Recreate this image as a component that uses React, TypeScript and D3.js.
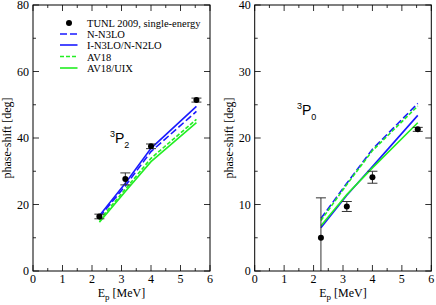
import React from "react";
import * as d3 from "d3";

// ---- Data ----
const energies = [2.25, 3.13, 4.0, 5.54];

// 3P2 panel
const p2Tunl = [16.4, 27.7, 37.5, 51.4];
const p2TunlErr = [0.7, 1.8, 0.7, 0.6];
const p2NN3LO = [16.2, 25.6, 35.9, 48.0];
const p2IN3LO = [16.6, 26.4, 36.9, 49.5];
const p2AV18 = [15.3, 24.6, 33.9, 45.6];
const p2AV18UIX = [14.7, 23.9, 32.9, 44.6];

// 3P0 panel
const p0Tunl = [5.0, 9.7, 14.1, 21.3];
const p0TunlErr = [6.0, 0.75, 0.9, 0.3];
const p0NN3LO = [7.9, 13.2, 18.3, 25.2];
const p0IN3LO = [6.5, 11.4, 15.7, 23.4];
const p0AV18 = [7.6, 13.0, 18.1, 24.8];
const p0AV18UIX = [6.8, 11.5, 15.5, 22.3];

const xTicks = [0, 1, 2, 3, 4, 5, 6];
const xMinor = [0.5, 1.5, 2.5, 3.5, 4.5, 5.5];
const leftYTicks = [0, 20, 40, 60, 80];
const leftYMinor = [10, 30, 50, 70];
const rightYTicks = [0, 10, 20, 30, 40];
const rightYMinor = [5, 15, 25, 35];

const legendLabels = [
  "TUNL 2009, single-energy",
  "N-N3LO",
  "I-N3LO/N-N2LO",
  "AV18",
  "AV18/UIX",
];

const BLUE = "#1a1aff";
const GREEN = "#22ee22";
const SERIF = "'Liberation Serif', 'DejaVu Serif', serif";
const SANS = "'Liberation Sans', Arial, sans-serif";

type Series = { vals: number[]; color: string; dash?: string };

function Panel(props: {
  x0: number;
  x1: number;
  yMax: number;
  yTicks: number[];
  yMinor: number[];
  tunl: number[];
  err: number[];
  series: Series[];
  label: string;
  sub: string;
  labelX: number;
  labelY: number;
  legend?: boolean;
}) {
  const { x0, x1, yMax, yTicks, yMinor, tunl, err, series } = props;
  const top = 5;
  const bottom = 271;
  const xs = d3.scaleLinear().domain([0, 6]).range([x0, x1]);
  const ys = d3.scaleLinear().domain([0, yMax]).range([bottom, top]);
  const line = d3
    .line<number>()
    .x((_, i) => xs(energies[i]))
    .y((d) => ys(d));
  const major = 6;
  const minor = 3;
  return (
    <g>
      <defs>
        <clipPath id={"clip" + x0}>
          <rect x={x0} y={top} width={x1 - x0} height={bottom - top} />
        </clipPath>
      </defs>
      {/* ticks */}
      {xTicks.map((t) => (
        <g key={"xt" + t}>
          <line x1={xs(t)} x2={xs(t)} y1={bottom} y2={bottom - major} stroke="#333" />
          <line x1={xs(t)} x2={xs(t)} y1={top} y2={top + major} stroke="#333" />
          <text x={xs(t)} y={bottom + 12} fontSize={12} fontFamily={SERIF} textAnchor="middle">
            {t}
          </text>
        </g>
      ))}
      {xMinor.map((t) => (
        <g key={"xm" + t}>
          <line x1={xs(t)} x2={xs(t)} y1={bottom} y2={bottom - minor} stroke="#333" />
          <line x1={xs(t)} x2={xs(t)} y1={top} y2={top + minor} stroke="#333" />
        </g>
      ))}
      {yTicks.map((t) => (
        <g key={"yt" + t}>
          <line x1={x0} x2={x0 + major} y1={ys(t)} y2={ys(t)} stroke="#333" />
          <line x1={x1} x2={x1 - major} y1={ys(t)} y2={ys(t)} stroke="#333" />
          <text x={x0 - 4} y={ys(t) + 4} fontSize={12} fontFamily={SERIF} textAnchor="end">
            {t}
          </text>
        </g>
      ))}
      {yMinor.map((t) => (
        <g key={"ym" + t}>
          <line x1={x0} x2={x0 + minor} y1={ys(t)} y2={ys(t)} stroke="#333" />
          <line x1={x1} x2={x1 - minor} y1={ys(t)} y2={ys(t)} stroke="#333" />
        </g>
      ))}
      {/* series */}
      <g clipPath={`url(#clip${x0})`}>
        {series.map((s, i) => (
          <path
            key={"s" + i}
            d={line(s.vals) || ""}
            fill="none"
            stroke={s.color}
            strokeWidth={1.6}
            strokeDasharray={s.dash}
          />
        ))}
        {tunl.map((v, i) => {
          const cx = xs(energies[i]);
          const lo = ys(v - err[i]);
          const hi = ys(v + err[i]);
          return (
            <g key={"p" + i}>
              <line x1={cx} x2={cx} y1={lo} y2={hi} stroke="#333" />
              <line x1={cx - 5} x2={cx + 5} y1={lo} y2={lo} stroke="#333" />
              <line x1={cx - 5} x2={cx + 5} y1={hi} y2={hi} stroke="#333" />
              <circle cx={cx} cy={ys(v)} r={3} fill="black" />
            </g>
          );
        })}
      </g>
      {/* frame */}
      <rect x={x0} y={top} width={x1 - x0} height={bottom - top} fill="none" stroke="black" strokeWidth={1} />
      {/* axis labels */}
      <text
        transform={`translate(${x0 - 22},${(top + bottom) / 2}) rotate(-90)`}
        fontSize={12}
        fontFamily={SERIF}
        textAnchor="middle"
      >
        phase-shift [deg]
      </text>
      <text x={(x0 + x1) / 2} y={297} fontSize={12} fontFamily={SERIF} textAnchor="middle">
        E<tspan fontSize={9} dy={3}>p</tspan>
        <tspan dy={-3}> [MeV]</tspan>
      </text>
      {/* panel label */}
      <text x={props.labelX} y={props.labelY} fontSize={14} fontFamily={SANS}>
        <tspan fontSize={9} dy={-6}>{props.label}</tspan>
        <tspan dy={6}>P</tspan>
        <tspan fontSize={9} dy={5}>{props.sub}</tspan>
      </text>
      {props.legend && (
        <g>
          {legendLabels.map((lab, i) => {
            const ly = [23, 34, 45, 56.5, 68][i];
            return (
              <g key={"lg" + i}>
                {i === 0 ? (
                  <circle cx={69} cy={ly} r={3} fill="black" />
                ) : (
                  <line
                    x1={60}
                    x2={77.5}
                    y1={ly}
                    y2={ly}
                    stroke={series[i - 1].color}
                    strokeWidth={1.6}
                    strokeDasharray={series[i - 1].dash}
                  />
                )}
                <text x={87} y={ly + 4} fontSize={10.5} fontFamily={SERIF}>
                  {lab}
                </text>
              </g>
            );
          })}
        </g>
      )}
    </g>
  );
}

export default function App() {
  const leftSeries: Series[] = [
    { vals: p2NN3LO, color: BLUE, dash: "7,3" },
    { vals: p2IN3LO, color: BLUE },
    { vals: p2AV18, color: GREEN, dash: "4,2" },
    { vals: p2AV18UIX, color: GREEN },
  ];
  const rightSeries: Series[] = [
    { vals: p0NN3LO, color: BLUE, dash: "7,3" },
    { vals: p0IN3LO, color: BLUE },
    { vals: p0AV18, color: GREEN, dash: "4,2" },
    { vals: p0AV18UIX, color: GREEN },
  ];
  return (
    <svg
      width={436}
      height={305}
      style={{ position: "absolute", left: 0, top: 0, background: "white" }}
    >
      <rect width={436} height={305} fill="white" />
      <Panel
        x0={33}
        x1={210}
        yMax={80}
        yTicks={leftYTicks}
        yMinor={leftYMinor}
        tunl={p2Tunl}
        err={p2TunlErr}
        series={leftSeries}
        label="3"
        sub="2"
        labelX={110}
        labelY={143}
        legend
      />
      <Panel
        x0={254.7}
        x1={431.3}
        yMax={40}
        yTicks={rightYTicks}
        yMinor={rightYMinor}
        tunl={p0Tunl}
        err={p0TunlErr}
        series={rightSeries}
        label="3"
        sub="0"
        labelX={297}
        labelY={115}
      />
    </svg>
  );
}
